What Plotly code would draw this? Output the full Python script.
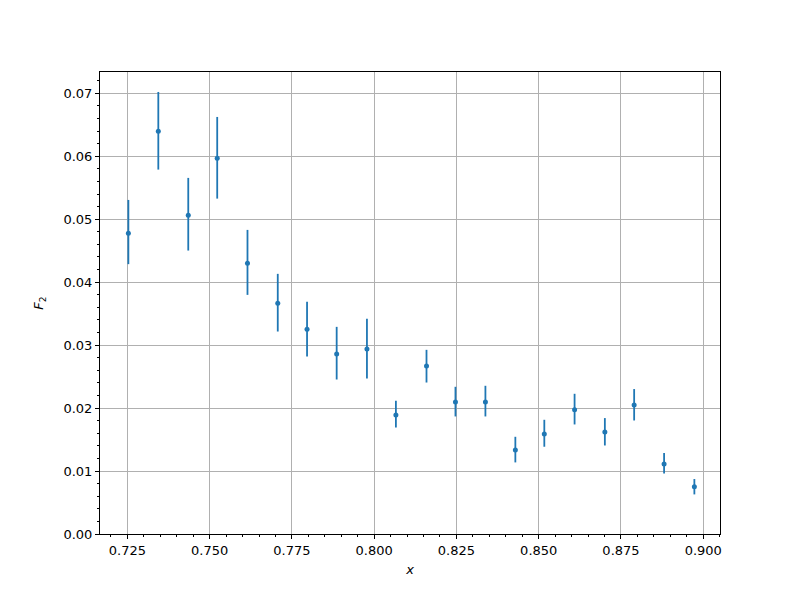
import plotly.graph_objects as go

x_vals = [0.7253, 0.7344, 0.7435, 0.7523, 0.7615, 0.7707, 0.7796, 0.7886, 0.7978, 0.8066,
          0.8159, 0.8247, 0.8338, 0.8429, 0.8517, 0.8609, 0.8701, 0.8790, 0.8881, 0.8973]
f2_vals = [0.04778, 0.06397, 0.05063, 0.05968, 0.04302, 0.03667, 0.03254, 0.02857, 0.02937, 0.01889,
           0.02667, 0.02095, 0.02095, 0.01333, 0.01587, 0.01973, 0.01619, 0.02048, 0.01111, 0.00751]
err_top = [0.05306, 0.07021, 0.05656, 0.06624, 0.04830, 0.04132, 0.03687, 0.03290, 0.03417, 0.02116,
           0.02925, 0.02338, 0.02354, 0.01544, 0.01814, 0.02227, 0.01841, 0.02302, 0.01286, 0.00873]
err_bot = [0.04286, 0.05788, 0.04502, 0.05327, 0.03798, 0.03216, 0.02819, 0.02454, 0.02470, 0.01692,
           0.02406, 0.01867, 0.01867, 0.01137, 0.01386, 0.01740, 0.01406, 0.01803, 0.00962, 0.00629]

err_plus = [t - v for t, v in zip(err_top, f2_vals)]
err_minus = [v - b for v, b in zip(f2_vals, err_bot)]

color = "#1f77b4"
fig = go.Figure()
fig.add_trace(go.Scatter(
    x=x_vals, y=f2_vals, mode="markers",
    marker=dict(color=color, size=5),
    error_y=dict(type="data", symmetric=False, array=err_plus, arrayminus=err_minus,
                 color=color, thickness=1.8, width=0),
    showlegend=False,
))

font = dict(family="DejaVu Sans", size=13, color="black")
axis_common = dict(
    showline=True, linecolor="black", linewidth=1, mirror=True,
    ticks="outside", ticklen=4, tickwidth=1, tickcolor="black",
    showgrid=True, gridcolor="#b0b0b0", gridwidth=1,
    zeroline=False, tickfont=font,
    minor=dict(ticks="outside", ticklen=2, tickwidth=0.8, tickcolor="black", showgrid=False),
)

fig.update_xaxes(range=[0.71668, 0.90509], dtick=0.025, tick0=0.725, tickformat=".3f",
                 title=dict(text="<i>x</i>", font=font, standoff=8),
                 **axis_common)
fig.update_xaxes(minor_dtick=0.005)
fig.update_yaxes(range=[0, 0.07338], dtick=0.01, tick0=0, tickformat=".2f",
                 title=dict(text="<i>F</i><sub>2</sub>", font=font, standoff=16),
                 **axis_common)
fig.update_yaxes(minor_dtick=0.002)

fig.update_layout(
    width=800, height=600,
    margin=dict(l=92, r=88, t=64, b=74),
    plot_bgcolor="white", paper_bgcolor="white",
    font=font,
)

fig.write_html("out.html")
